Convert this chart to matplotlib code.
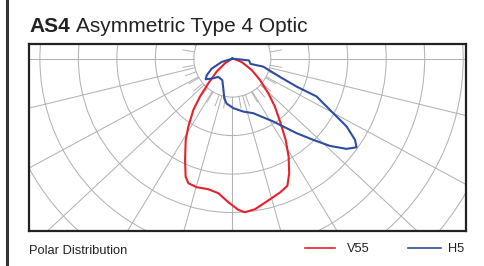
import numpy as np
import matplotlib.pyplot as plt
from matplotlib.patches import Circle
from matplotlib.lines import Line2D

# Polar candela data: angle from nadir (deg, + = right) and relative intensity (grid rings)
v55_angle = [-62, -57.5, -50.3, -44.2, -40.4, -37.2, -32.9, -29.8, -25.0, -21.6, -19.4,
             -15.5, -10.4, -5.9, -1.6, 2.3, 4.7, 8.6, 13.5, 19.6, 23.4, 26.4, 29.9,
             33.3, 36.8, 41.6, 46.1, 52.4, 59.6, 70.3, 76.0, 80]
v55_value = [0.0, 0.226, 0.529, 0.894, 1.296, 1.675, 2.104, 2.436, 2.905, 3.296, 3.434,
             3.468, 3.451, 3.517, 3.733, 3.934, 4.005, 3.958, 3.820, 3.694, 3.603, 3.326,
             2.936, 2.526, 2.097, 1.668, 1.298, 0.907, 0.582, 0.257, 0.071, 0.0]

h5_angle = [88, 84.0, 83.8, 73.8, 75.5, 69.0, 66.5, 65.8, 62.3, 59.3, 56.5, 54.5, 51.7,
            48.2, 44.9, 40.8, 33.1, 21.0, 11.7, 1.2, -7.1, -11.3, -16.7, -24.8, -37.4,
            -45.8, -52.2, -57.0, -64.1, -72.7, -80]
h5_value = [0.0, 0.201, 0.436, 0.492, 0.832, 1.327, 1.824, 2.404, 2.866, 3.457, 3.823,
            3.967, 3.785, 3.403, 2.981, 2.560, 1.952, 1.519, 1.406, 1.288, 1.178, 1.059,
            0.813, 0.618, 0.598, 0.746, 0.874, 0.792, 0.595, 0.288, 0.0]

series = [('V55', v55_angle, v55_value, '#e8202a'),
          ('H5', h5_angle, h5_value, '#2f4da0')]


def to_xy(angle, value):
    a = np.radians(angle)
    r = np.asarray(value)
    return r * np.sin(a), -r * np.cos(a)


W, H = 485, 266
fig = plt.figure(figsize=(W / 100, H / 100), dpi=100)
plt.rcParams['font.family'] = ['Liberation Sans', 'DejaVu Sans']

# left side bar
fig.add_artist(Line2D([7.5 / W, 7.5 / W], [0, 1], color='#333333', lw=2.2))

ax = fig.add_axes([29 / W, 35 / H, 437 / W, 187 / H])
ax.set_xlim(-5.28, 6.07)
ax.set_ylim(-4.48, 0.38)
ax.set_aspect('equal')
ax.set_xticks([])
ax.set_yticks([])
for s in ax.spines.values():
    s.set_linewidth(1.6)
    s.set_color('#222222')

grid_c = '#b3b3b3'
for k in range(1, 9):
    ax.add_patch(Circle((0, 0), k, fill=False, ec=grid_c, lw=0.75))

# short ticks in the first ring
for a in range(-180, 180, 10):
    x, y = to_xy([a, a], [1, 1.3])
    ax.plot(x, y, color=grid_c, lw=0.7)

# main radial lines
for a in [0, 15.7, 31.3, 47, 61.7, 76.3, 90]:
    for sgn in (-1, 1):
        x, y = to_xy([sgn * a, sgn * a], [1, 10])
        ax.plot(x, y, color=grid_c, lw=0.75)

for name, ang, val, col in series:
    x, y = to_xy(ang, val)
    ax.plot(x, y, color=col, lw=1.5, solid_joinstyle='round')

# title
fig.text(29 / W, 1 - 31.5 / H, 'AS4', fontsize=15, fontweight='bold',
         va='baseline', ha='left', color='#222222')
fig.text(76 / W, 1 - 31.5 / H, 'Asymmetric Type 4 Optic', fontsize=15,
         va='baseline', ha='left', color='#222222')

# footer
fig.text(29 / W, 1 - 253.5 / H, 'Polar Distribution', fontsize=9.3,
         va='baseline', ha='left', color='#222222')
leg_y = 1 - 248.3 / H
legend_pos = [(305, 335, 347), (408, 441, 448)]
for (name, ang, val, col), (x0, x1, xt) in zip(series, legend_pos):
    fig.add_artist(Line2D([x0 / W, x1 / W], [leg_y, leg_y], color=col, lw=1.2))
    fig.text(xt / W, 1 - 252.5 / H, name, fontsize=9.2, va='baseline',
             ha='left', color='#222222')

fig.savefig('out.png', dpi=100)
